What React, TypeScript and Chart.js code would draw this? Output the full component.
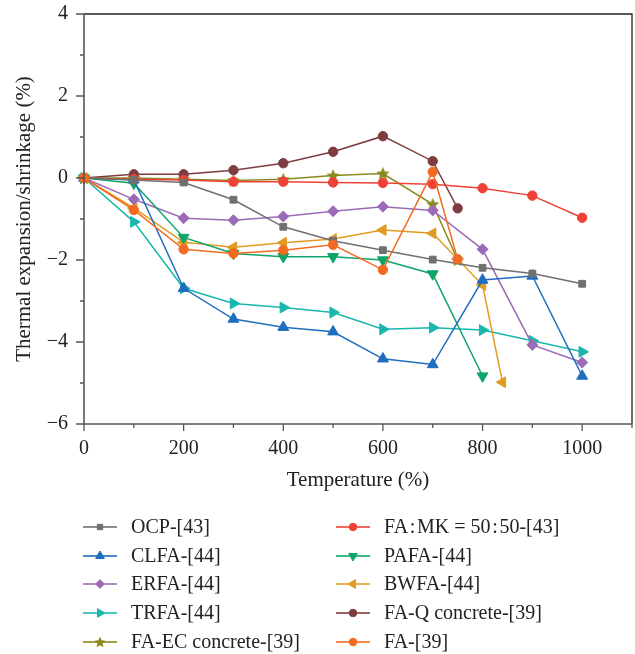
import React, { useEffect, useRef } from "react";
import { Chart, registerables } from "chart.js";
import { drawPoint } from "chart.js/helpers";

Chart.register(...registerables);

const FONT = "'Liberation Serif', 'Times New Roman', serif";

// X values (temperature)
const TEMPS = [0, 100, 200, 300, 400, 500, 600, 700, 800, 900, 1000];
const TEMPS_PAFA = [0, 100, 200, 300, 400, 500, 600, 700, 800];
const TEMPS_BWFA = [0, 100, 200, 300, 400, 500, 600, 700, 800, 840];
const TEMPS_39 = [0, 100, 200, 300, 400, 500, 600, 700, 750];

// Series values (%)
const OCP = [0, -0.05, -0.11, -0.53, -1.19, -1.53, -1.76, -1.99, -2.19, -2.33, -2.58];
const FAMK = [0, -0.03, -0.05, -0.09, -0.09, -0.11, -0.12, -0.15, -0.25, -0.43, -0.97];
const CLFA = [0, -0.04, -2.69, -3.44, -3.64, -3.75, -4.41, -4.55, -2.49, -2.39, -4.83];
const PAFA = [0, -0.13, -1.45, -1.84, -1.92, -1.92, -2.0, -2.34, -4.83];
const ERFA = [0, -0.52, -0.98, -1.03, -0.94, -0.81, -0.7, -0.79, -1.74, -4.07, -4.5];
const BWFA = [0, -0.73, -1.57, -1.69, -1.58, -1.49, -1.27, -1.35, -2.61, -4.98];
const TRFA = [0, -1.07, -2.69, -3.06, -3.16, -3.28, -3.69, -3.65, -3.71, -3.97, -4.24];
const FAQ = [0, 0.09, 0.09, 0.19, 0.36, 0.64, 1.02, 0.41, -0.74];
const FAEC = [0, 0.0, -0.03, -0.06, -0.03, 0.06, 0.11, -0.64, -2.0];
const FA39 = [0, -0.78, -1.74, -1.84, -1.76, -1.63, -2.24, 0.15, -1.98];

const LABELS = [
  "OCP-[43]",
  "FA\u200A:\u200AMK = 50\u200A:\u200A50-[43]",
  "CLFA-[44]",
  "PAFA-[44]",
  "ERFA-[44]",
  "BWFA-[44]",
  "TRFA-[44]",
  "FA-Q concrete-[39]",
  "FA-EC concrete-[39]",
  "FA-[39]",
];

const X_TICKS_LABELED = [0, 200, 400, 600, 800, 1000];
const Y_TICKS_LABELED = [-6, -4, -2, 0, 2, 4];

const COLORS = [
  "#707070",
  "#ef4136",
  "#1f6dbf",
  "#0fa468",
  "#9c6bb7",
  "#e29b22",
  "#1ab6ae",
  "#7d3d40",
  "#8a8a1c",
  "#f36b21",
];

function zip(xs: number[], ys: number[]) {
  return ys.map((y, i) => ({ x: xs[i], y }));
}

function makeStar(color: string, size: number) {
  const c = document.createElement("canvas");
  c.width = size;
  c.height = size;
  const g = c.getContext("2d")!;
  const cx = size / 2;
  const cy = size / 2 + 0.5;
  const R = size / 2;
  const r = R * 0.45;
  g.beginPath();
  for (let i = 0; i < 10; i++) {
    const a = -Math.PI / 2 + (i * Math.PI) / 5;
    const rr = i % 2 ? r : R;
    g.lineTo(cx + rr * Math.cos(a), cy + rr * Math.sin(a));
  }
  g.closePath();
  g.fillStyle = color;
  g.fill();
  return c;
}

export default function App() {
  const ref = useRef<HTMLCanvasElement | null>(null);

  useEffect(() => {
    if (!ref.current) return;
    const star = makeStar(COLORS[8], 14);
    const starSmall = makeStar(COLORS[8], 12);

    const series = [
      { data: zip(TEMPS, OCP), style: "rect", rot: 0, r: 4.8 },
      { data: zip(TEMPS, FAMK), style: "circle", rot: 0, r: 4.7 },
      { data: zip(TEMPS, CLFA), style: "triangle", rot: 0, r: 6.3 },
      { data: zip(TEMPS_PAFA, PAFA), style: "triangle", rot: 180, r: 6.3 },
      { data: zip(TEMPS, ERFA), style: "rectRot", rot: 0, r: 5.5 },
      { data: zip(TEMPS_BWFA, BWFA), style: "triangle", rot: 270, r: 6.3 },
      { data: zip(TEMPS, TRFA), style: "triangle", rot: 90, r: 6.3 },
      { data: zip(TEMPS_39, FAQ), style: "circle", rot: 0, r: 4.7 },
      { data: zip(TEMPS_39, FAEC), style: "star", rot: 0, r: 6 },
      { data: zip(TEMPS_39, FA39), style: "circle", rot: 0, r: 4.7 },
    ];

    const datasets = series.map((s, i) => ({
      label: LABELS[i],
      data: s.data,
      order: i === 9 ? -1 : 0,
      borderColor: COLORS[i],
      backgroundColor: COLORS[i],
      borderWidth: 1.5,
      pointStyle: s.style === "star" ? (star as any) : s.style,
      rotation: s.rot,
      pointRotation: s.rot,
      pointRadius: s.r,
      pointBorderWidth: 1,
      pointBorderColor: COLORS[i],
      pointBackgroundColor: COLORS[i],
      tension: 0,
      fill: false,
      clip: false,
    }));

    const frame = {
      id: "frame",
      afterDraw(chart: any) {
        const { ctx, chartArea: a, scales } = chart;
        const xs = scales.x;
        const ys = scales.y;
        ctx.save();
        // top & right border
        ctx.strokeStyle = "#222";
        ctx.lineWidth = 1.3;
        ctx.beginPath();
        ctx.moveTo(a.left, a.top);
        ctx.lineTo(a.right, a.top);
        ctx.lineTo(a.right, a.bottom);
        ctx.stroke();
        // axes
        ctx.strokeStyle = "#555";
        ctx.lineWidth = 1.6;
        ctx.beginPath();
        ctx.moveTo(a.left, a.top);
        ctx.lineTo(a.left, a.bottom);
        ctx.lineTo(a.right, a.bottom);
        ctx.stroke();
        // ticks
        ctx.lineWidth = 1.3;
        ctx.beginPath();
        for (let v = xs.min; v <= xs.max + 0.001; v += 100) {
          const px = xs.getPixelForValue(v);
          const len = X_TICKS_LABELED.includes(v) ? 7 : 4;
          ctx.moveTo(px, a.bottom);
          ctx.lineTo(px, a.bottom + len);
        }
        for (let v = ys.min; v <= ys.max + 0.001; v += 1) {
          const py = ys.getPixelForValue(v);
          const len = Y_TICKS_LABELED.includes(v) ? 8 : 4;
          ctx.moveTo(a.left, py);
          ctx.lineTo(a.left - len, py);
        }
        ctx.stroke();

        // legend
        const rows = [527, 556, 584, 613, 642];
        const cols = [83, 336];
        chart.data.datasets.forEach((ds: any, i: number) => {
          const y = rows[Math.floor(i / 2)];
          const x0 = cols[i % 2];
          const s = series[i];
          ctx.strokeStyle = COLORS[i];
          ctx.globalAlpha = 0.8;
          ctx.lineWidth = 2;
          ctx.beginPath();
          ctx.moveTo(x0, y);
          ctx.lineTo(x0 + 34, y);
          ctx.stroke();
          ctx.globalAlpha = 1;
          ctx.fillStyle = COLORS[i];
          ctx.lineWidth = 1;
          drawPoint(
            ctx,
            {
              pointStyle: s.style === "star" ? (starSmall as any) : s.style,
              rotation: s.rot,
              radius: s.r * 0.8,
              borderWidth: 1,
            } as any,
            x0 + 17,
            y
          );
          ctx.fillStyle = "#222";
          ctx.font = `20px ${FONT}`;
          ctx.textBaseline = "middle";
          ctx.textAlign = "left";
          ctx.fillText(ds.label, x0 + 48, y + 1);
        });
        ctx.restore();
      },
    };

    const chart = new Chart(ref.current, {
      type: "line",
      data: { datasets: datasets as any },
      options: {
        responsive: false,
        animation: false,
        devicePixelRatio: 1,
        layout: { autoPadding: false, padding: { top: 14, right: 3, left: 0, bottom: 160 } },
        plugins: {
          legend: { display: false },
          tooltip: { enabled: false },
        },
        scales: {
          x: {
            type: "linear",
            min: 0,
            max: 1100,
            afterFit: (s: any) => {
              s.height = 70;
              s.paddingLeft = 0;
              s.paddingRight = 0;
            },
            border: { display: false },
            grid: { display: false, drawTicks: false },
            ticks: {
              stepSize: 100,
              padding: 13,
              color: "#222",
              font: { family: FONT, size: 20 },
              maxRotation: 0,
              autoSkip: false,
              callback: (v: any) => (X_TICKS_LABELED.includes(Number(v)) ? String(v) : ""),
            },
            title: {
              display: true,
              text: "Temperature (%)",
              color: "#222",
              font: { family: FONT, size: 21 },
              padding: { top: 0, bottom: 1 },
            },
          },
          y: {
            type: "linear",
            min: -6,
            max: 4,
            afterFit: (s: any) => {
              s.width = 84;
              s.paddingTop = 0;
              s.paddingBottom = 0;
            },
            border: { display: false },
            grid: { display: false, drawTicks: false },
            ticks: {
              stepSize: 1,
              padding: 16,
              color: "#222",
              font: { family: FONT, size: 20 },
              autoSkip: false,
              callback: (v: any) => {
                const n = Number(v);
                if (!Y_TICKS_LABELED.includes(n)) return "";
                return n < 0 ? "\u2212" + Math.abs(n) : String(n);
              },
            },
            title: {
              display: true,
              text: "Thermal expansion/shrinkage (%)",
              color: "#222",
              font: { family: FONT, size: 21 },
              padding: { top: 12, bottom: 0 },
            },
          },
        },
      },
      plugins: [frame],
    });

    return () => chart.destroy();
  }, []);

  return (
    <div style={{ position: "absolute", left: 0, top: 0, width: 635, height: 654, background: "#fff" }}>
      <canvas ref={ref} width={635} height={654} style={{ width: 635, height: 654, display: "block" }} />
    </div>
  );
}
